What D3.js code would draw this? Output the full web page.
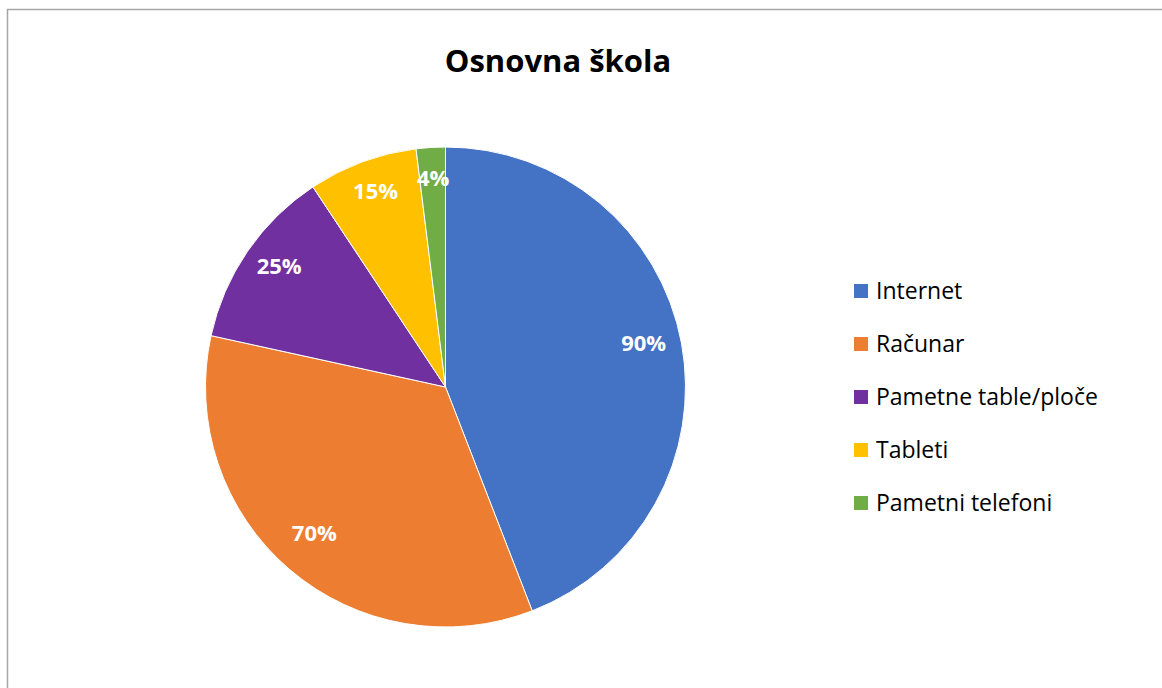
<head>
    <meta charset="utf-8">
    <style> body { margin: 0; background: #ffffff; } </style>
    <script src="https://d3js.org/d3.v7.min.js"></script>
</head>
<body>
    <div id="chart"></div>
    <script>
        var categories = ["Internet", "Računar", "Pametne table/ploče", "Tableti", "Pametni telefoni"];
        var values = [90, 70, 25, 15, 4];
        var labels = ["90%", "70%", "25%", "15%", "4%"];
        var colors = ["#4472C4", "#ED7D31", "#7030A0", "#FFC000", "#70AD47"];

        var W = 1162, H = 688;
        var font = "'Open Sans', Lato, sans-serif";

        var svg = d3.select("#chart").append("svg")
            .attr("width", W)
            .attr("height", H);

        // chart frame (only top and left edges show)
        svg.append("rect")
            .attr("x", 7.5).attr("y", 9.5)
            .attr("width", W + 20).attr("height", H + 20)
            .attr("fill", "#ffffff")
            .attr("stroke", "#a6a6a6")
            .attr("stroke-width", 1.5);

        svg.append("text")
            .attr("x", 558).attr("y", 72)
            .attr("text-anchor", "middle")
            .attr("font-family", font)
            .attr("font-weight", "bold")
            .attr("font-size", 31)
            .attr("fill", "#000000")
            .text("Osnovna škola");

        var cx = 445.5, cy = 387, R = 240;

        var pie = d3.pie().sort(null).value(d => d.value);
        var data = categories.map((c, i) => ({ name: c, value: values[i], label: labels[i], color: colors[i] }));
        var arcs = pie(data);

        var arc = d3.arc().innerRadius(0).outerRadius(R);
        var labelArc = d3.arc().innerRadius(R * 0.84).outerRadius(R * 0.84);

        var g = svg.append("g").attr("transform", `translate(${cx},${cy})`);

        g.selectAll("path")
            .data(arcs)
            .enter()
            .append("path")
            .attr("d", arc)
            .attr("fill", d => d.data.color)
            .attr("stroke", "#ffffff")
            .attr("stroke-width", 1);

        g.selectAll(".lbl")
            .data(arcs)
            .enter()
            .append("text")
            .attr("class", "lbl")
            .attr("transform", d => {
                var c = labelArc.centroid(d);
                return `translate(${c[0]},${c[1] - 7})`;
            })
            .attr("text-anchor", "middle")
            .attr("dy", "0.35em")
            .attr("font-family", font)
            .attr("font-weight", "bold")
            .attr("font-size", 22)
            .attr("fill", "#ffffff")
            .text(d => d.data.label);

        var legend = svg.append("g").attr("transform", "translate(854,284)");
        var row = legend.selectAll("g")
            .data(data)
            .enter()
            .append("g")
            .attr("transform", (d, i) => `translate(0,${i * 53})`);

        row.append("rect")
            .attr("width", 14).attr("height", 14)
            .attr("fill", d => d.color);

        row.append("text")
            .attr("x", 22).attr("y", 7)
            .attr("dy", "0.35em")
            .attr("font-family", font)
            .attr("font-size", 23)
            .attr("fill", "#000000")
            .text(d => d.name);
    </script>
</body>
